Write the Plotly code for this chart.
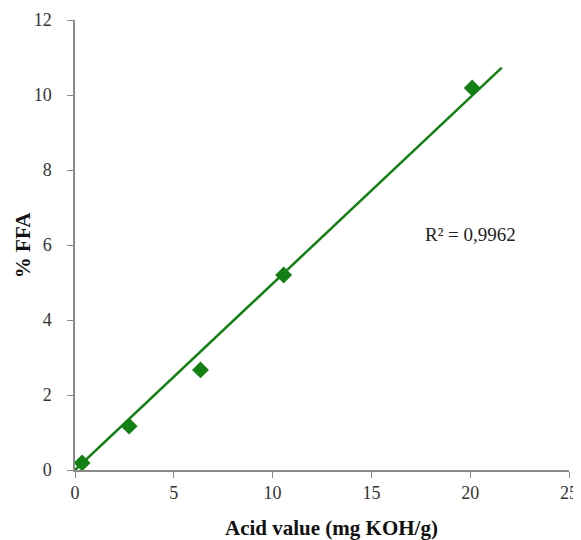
import numpy as np
import plotly.graph_objects as go

acid_value = [0.36, 2.74, 6.35, 10.56, 20.1]
ffa_pct = [0.19, 1.17, 2.67, 5.2, 10.19]
r2_label = "R² = 0,9962"
x_ticks = [0, 5, 10, 15, 20, 25]
y_ticks = [0, 2, 4, 6, 8, 10, 12]

xa = np.array(acid_value)
ya = np.array(ffa_pct)
slope = float((xa * ya).sum() / (xa * xa).sum())  # trendline through origin
trend_x = [0, 21.6]
trend_y = [slope * v for v in trend_x]

green = "#138013"
font_serif = "Liberation Serif"

fig = go.Figure()
fig.add_trace(go.Scatter(x=trend_x, y=trend_y, mode="lines",
                         line=dict(color=green, width=2.5), showlegend=False))
fig.add_trace(go.Scatter(x=acid_value, y=ffa_pct, mode="markers",
                         marker=dict(symbol="diamond", size=13, color=green),
                         showlegend=False))

fig.add_annotation(x=20.0, y=6.27, text=r2_label, showarrow=False,
                   font=dict(family=font_serif, size=19, color="#222"))

# axis titles
fig.add_annotation(xref="paper", yref="paper", x=0.520, y=-0.129,
                   text="<b>Acid value (mg KOH/g)</b>", showarrow=False,
                   xanchor="center", yanchor="middle",
                   font=dict(family=font_serif, size=21, color="#111"))
fig.add_annotation(xref="paper", yref="paper", x=-0.105, y=0.5,
                   text="<b>% FFA</b>", showarrow=False, textangle=-90,
                   xanchor="center", yanchor="middle",
                   font=dict(family=font_serif, size=21, color="#111"))

axis_common = dict(showline=True, linecolor="#8a8a8a", linewidth=1.5,
                   ticks="outside", ticklen=6, tickcolor="#8a8a8a",
                   showgrid=False, zeroline=False, automargin=False,
                   tickfont=dict(family=font_serif, size=18, color="#333"))

fig.update_xaxes(range=[0, 25], tickvals=x_ticks, **axis_common)
fig.update_yaxes(range=[0, 12], tickvals=y_ticks, ticklabelstandoff=12,
                 **axis_common)

fig.update_layout(width=573, height=532,
                  margin=dict(l=67, r=12, t=12, b=70),
                  plot_bgcolor="white", paper_bgcolor="white")

fig.write_html("out.html")
